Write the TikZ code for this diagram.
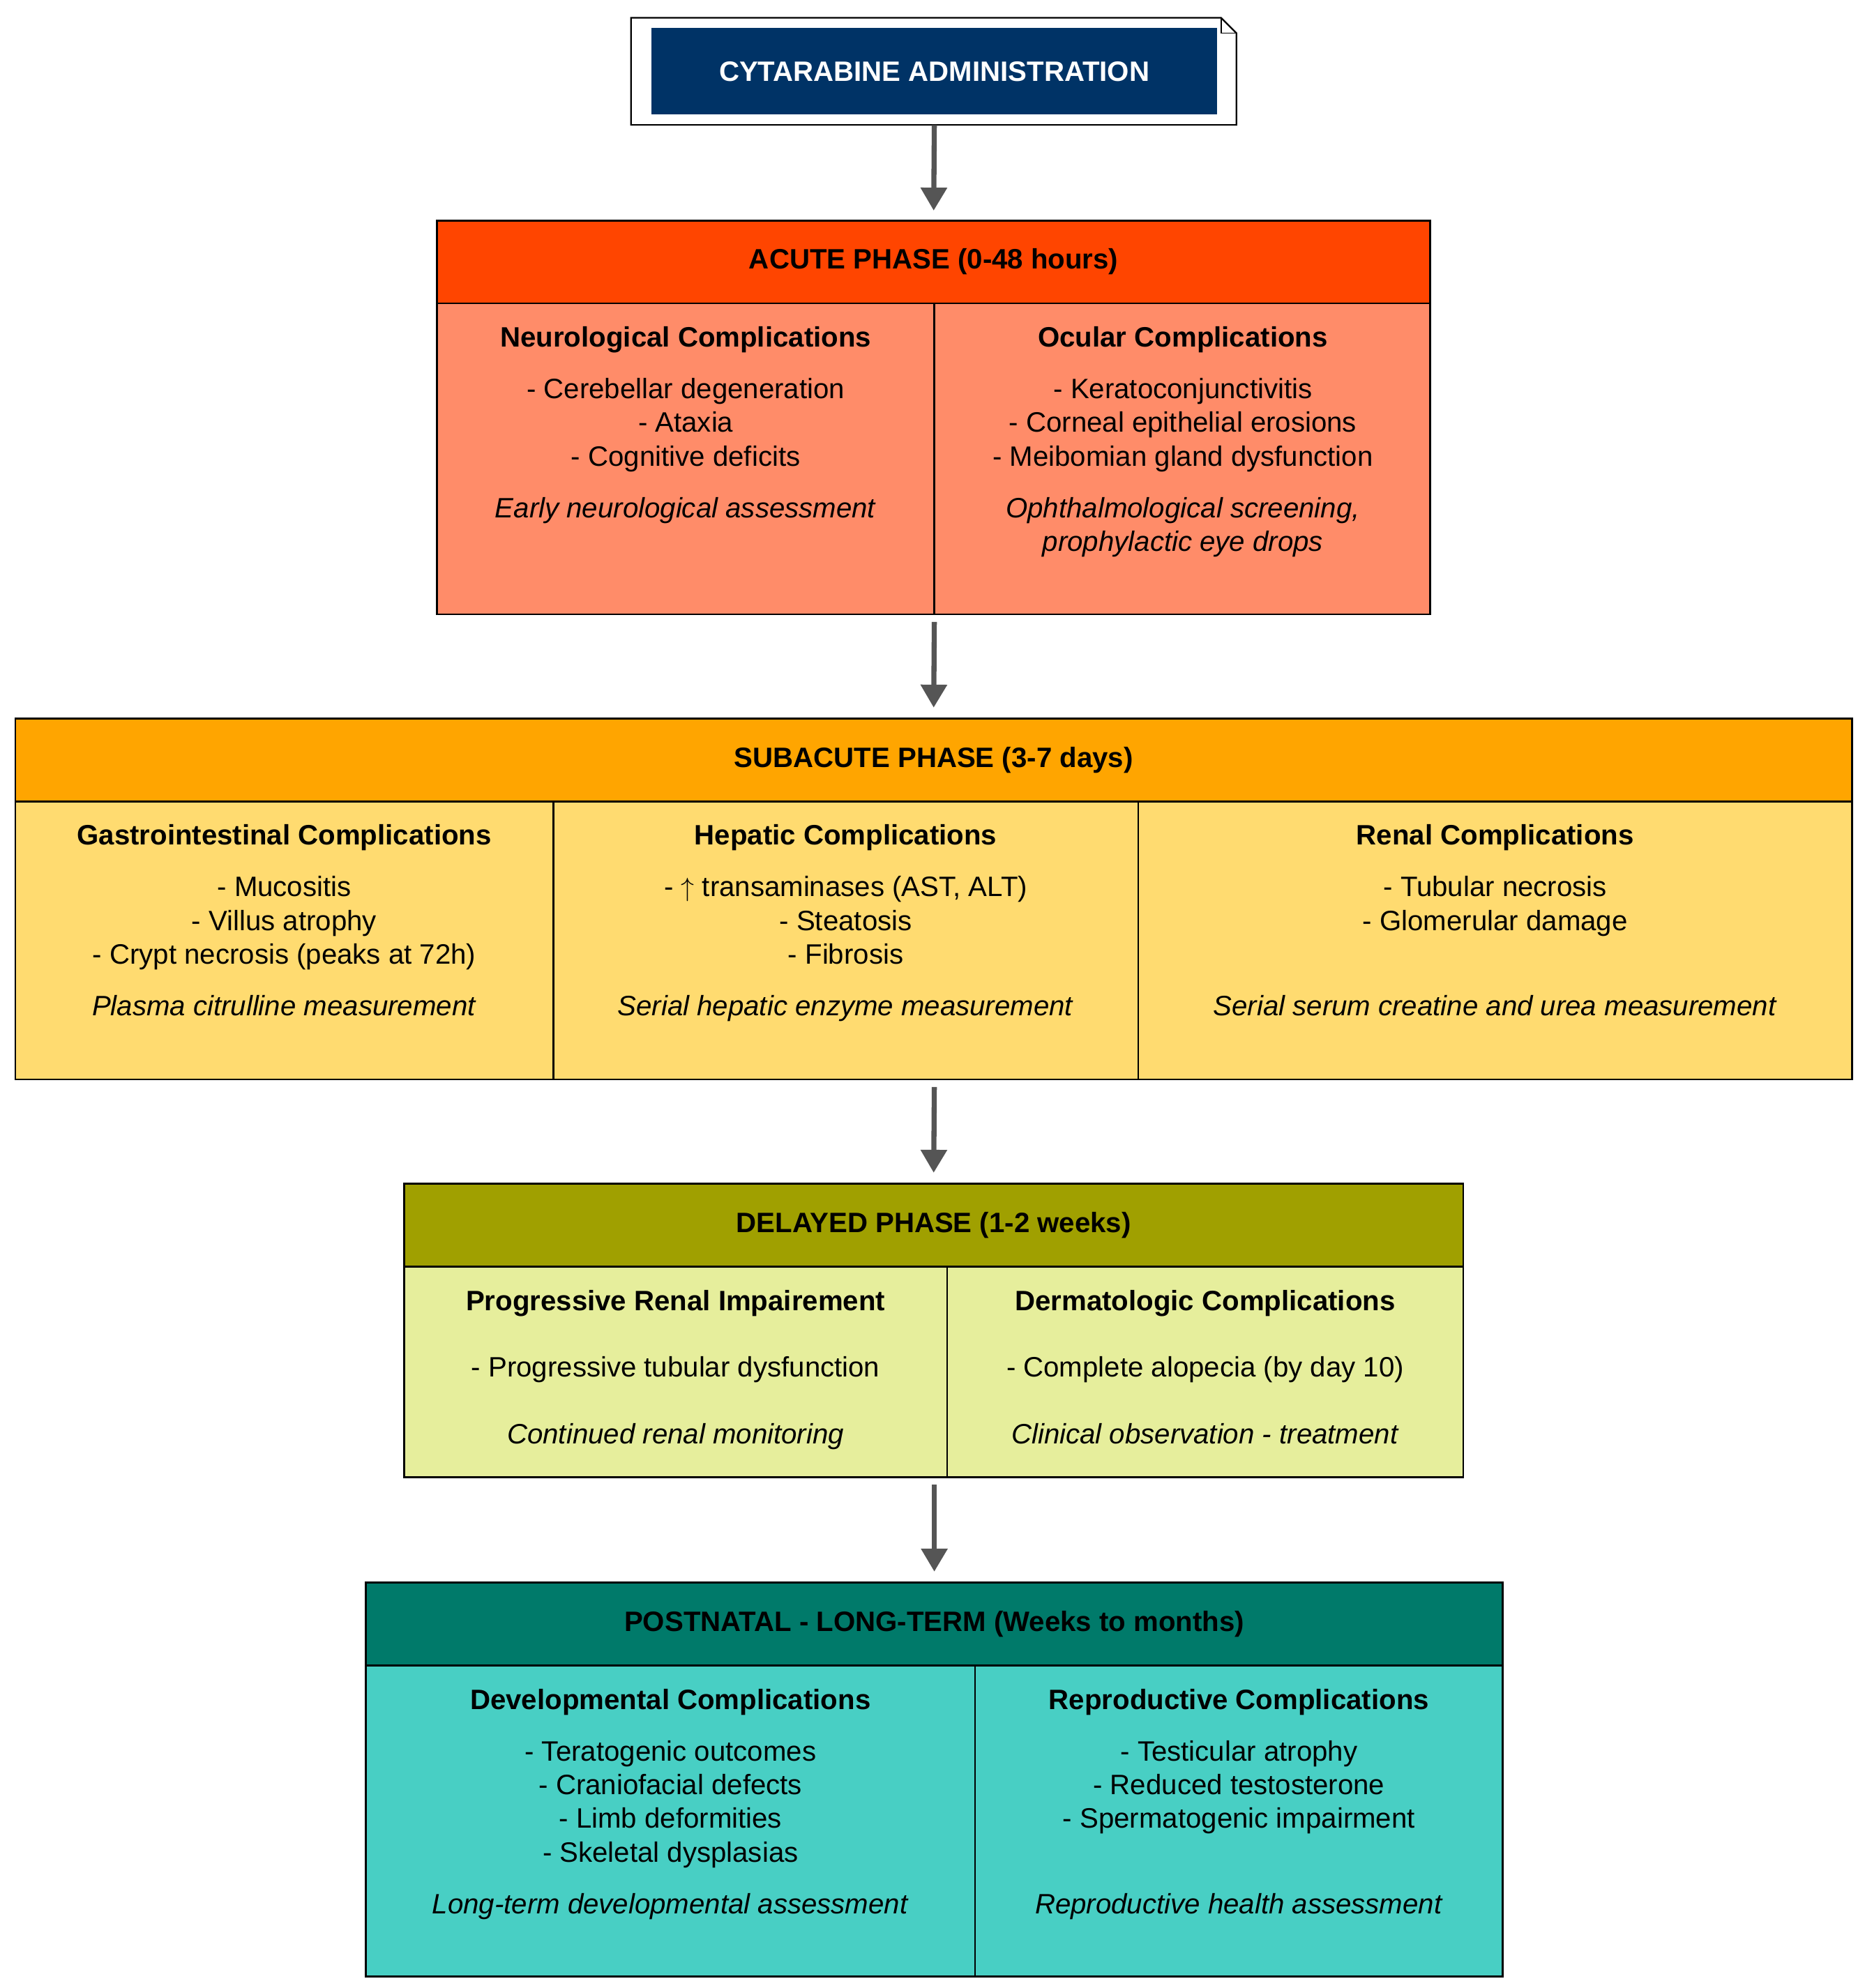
\documentclass[tikz,border=0pt]{standalone}
\usepackage{fontspec}
\setmainfont{Liberation Sans}
\usetikzlibrary{arrows.meta,positioning}
\definecolor{navy}{HTML}{003366}
\definecolor{acuteH}{HTML}{FF4500}
\definecolor{acuteB}{HTML}{FF8C69}
\definecolor{subH}{HTML}{FFA500}
\definecolor{subB}{HTML}{FFDB70}
\definecolor{delH}{HTML}{A0A000}
\definecolor{delB}{HTML}{E6EE9C}
\definecolor{postH}{HTML}{007A6A}
\definecolor{postB}{HTML}{48CFC4}
\definecolor{arr}{HTML}{555555}
\begin{document}
\begin{tikzpicture}[x=1pt,y=-1pt,
  box/.style={draw=black,line width=1.5pt},
  hdr/.style={font=\fontsize{22}{26}\selectfont\bfseries},
  txt/.style={align=center,font=\fontsize{22}{26.5}\selectfont,inner sep=0pt,anchor=north},
  flow/.style={draw=arr,line width=4pt,-{Triangle[length=18pt,width=20pt]}}]
\useasboundingbox (0,0) rectangle (1463,1560);
% title
\draw[line width=1.2pt,fill=white] (495,14) -- (958,14) -- (970,26) -- (970,98) -- (495,98) -- cycle;
\draw[line width=1pt] (958,14) -- (958,26) -- (970,26);
\node[fill=navy,minimum width=444pt,minimum height=68pt,text=white,font=\fontsize{22}{26}\selectfont\bfseries] (title) at (733,56) {CYTARABINE ADMINISTRATION};
% acute
\node[box,fill=acuteH,minimum width=779pt,minimum height=65pt,hdr] (acute) at (732.5,205.5) {ACUTE PHASE (0-48 hours)};
\draw[box,fill=acuteB] (343,238) rectangle (1122,482);
\draw[box] (733,238) -- (733,482);
\node[txt] (a1) at (538,256) {\textbf{Neurological Complications}\\[14pt]- Cerebellar degeneration\\- Ataxia\\- Cognitive deficits\\[14pt]\textit{Early neurological assessment}};
\node[txt] (a2) at (928,256) {\textbf{Ocular Complications}\\[14pt]- Keratoconjunctivitis\\- Corneal epithelial erosions\\- Meibomian gland dysfunction\\[14pt]\textit{Ophthalmological screening,}\\\textit{prophylactic eye drops}};
% subacute
\node[box,fill=subH,minimum width=1441pt,minimum height=65pt,hdr] (sub) at (732.5,596.5) {SUBACUTE PHASE (3-7 days)};
\draw[box,fill=subB] (12,629) rectangle (1453,847);
\draw[box] (434,629) -- (434,847) (893,629) -- (893,847);
\node[txt] (s1) at (223,647) {\textbf{Gastrointestinal Complications}\\[14pt]- Mucositis\\- Villus atrophy\\- Crypt necrosis (peaks at 72h)\\[14pt]\textit{Plasma citrulline measurement}};
\node[txt] (s2) at (663.5,647) {\textbf{Hepatic Complications}\\[14pt]- $\uparrow$ transaminases (AST, ALT)\\- Steatosis\\- Fibrosis\\[14pt]\textit{Serial hepatic enzyme measurement}};
\node[txt] (s3) at (1173,647) {\textbf{Renal Complications}\\[14pt]- Tubular necrosis\\- Glomerular damage\\\strut\\[14pt]\textit{Serial serum creatine and urea measurement}};
% delayed
\node[box,fill=delH,minimum width=831pt,minimum height=65pt,hdr] (del) at (732.5,961.5) {DELAYED PHASE (1-2 weeks)};
\draw[box,fill=delB] (317,994) rectangle (1148,1159);
\draw[box] (743,994) -- (743,1159);
\node[txt] (d1) at (530,1012) {\textbf{Progressive Renal Impairement}\\[26pt]- Progressive tubular dysfunction\\[26pt]\textit{Continued renal monitoring}};
\node[txt] (d2) at (945.5,1012) {\textbf{Dermatologic Complications}\\[26pt]- Complete alopecia (by day 10)\\[26pt]\textit{Clinical observation - treatment}};
% postnatal
\node[box,fill=postH,minimum width=892pt,minimum height=65pt,hdr] (post) at (733,1274.5) {POSTNATAL - LONG-TERM (Weeks to months)};
\draw[box,fill=postB] (287,1307) rectangle (1179,1551);
\draw[box] (765,1307) -- (765,1551);
\node[txt] (p1) at (526,1325) {\textbf{Developmental Complications}\\[14pt]- Teratogenic outcomes\\- Craniofacial defects\\- Limb deformities\\- Skeletal dysplasias\\[14pt]\textit{Long-term developmental assessment}};
\node[txt] (p2) at (972,1325) {\textbf{Reproductive Complications}\\[14pt]- Testicular atrophy\\- Reduced testosterone\\- Spermatogenic impairment\\\strut\\[14pt]\textit{Reproductive health assessment}};
% arrows
\coordinate (ab) at (733,482);
\coordinate (sb) at (733,847);
\coordinate (db) at (733,1159);
\draw[flow] ([yshift=-8pt]title.south) -- ([yshift=7pt]acute.north);
\draw[flow] ([yshift=-6pt]ab) -- ([yshift=8pt]sub.north);
\draw[flow] ([yshift=-6pt]sb) -- ([yshift=8pt]del.north);
\draw[flow] ([yshift=-6pt]db) -- ([yshift=8pt]post.north);
\end{tikzpicture}
\end{document}
